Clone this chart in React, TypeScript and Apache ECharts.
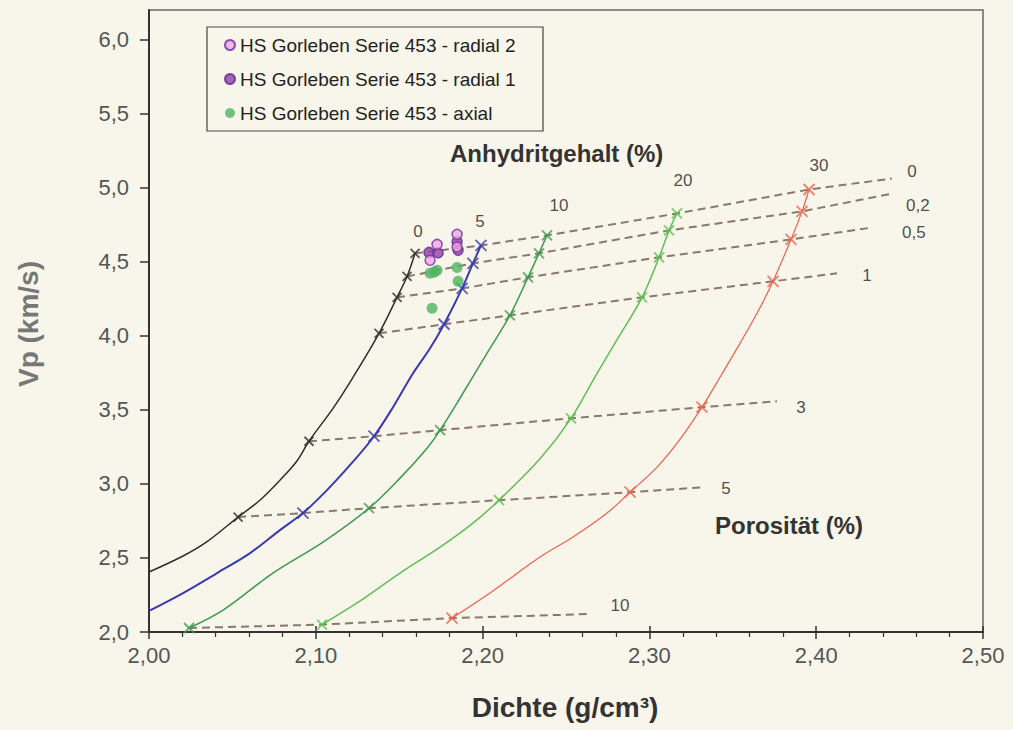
import React, { useEffect, useRef } from 'react';
import * as echarts from 'echarts';

const FONT = '"Liberation Sans", Arial, Helvetica, sans-serif';

// Porosity (%) and anhydrite content (%) levels of the model grid
const porosityLevels = ['0', '0,2', '0,5', '1', '3', '5', '10'];
const anhydriteLevels = ['0', '5', '10', '20', '30'];

// Grid nodes [density, Vp] of each anhydrite curve, one per porosity level (null: below 2,00 g/cm³)
const nodes0 = [[2.1595, 4.557], [2.1547, 4.401], [2.1487, 4.26], [2.1379, 4.017], [2.0959, 3.288], [2.0534, 2.776], null];
const nodes5 = [[2.199, 4.61], [2.1942, 4.489], [2.1877, 4.32], [2.1769, 4.078], [2.1349, 3.322], [2.0923, 2.803], null];
const nodes10 = [[2.2386, 4.678], [2.2338, 4.557], [2.2272, 4.395], [2.2164, 4.138], [2.1745, 3.363], [2.1319, 2.836], [2.024, 2.027]];
const nodes20 = [[2.3165, 4.826], [2.3118, 4.712], [2.3058, 4.53], [2.2956, 4.26], [2.253, 3.443], [2.2098, 2.89], [2.1037, 2.05]];
const nodes30 = [[2.3957, 4.988], [2.3915, 4.84], [2.3849, 4.651], [2.3741, 4.368], [2.3315, 3.518], [2.2884, 2.944], [2.1817, 2.094]];

// Intermediate points of each anhydrite curve
const path0 = [[2.0, 2.405], [2.0204, 2.513], [2.0348, 2.61], [2.0665, 2.89], [2.0785, 3.025], [2.0887, 3.155], [2.1103, 3.51], [2.1223, 3.72]];
const path5 = [[2.0, 2.142], [2.0204, 2.263], [2.0408, 2.398], [2.0606, 2.533], [2.0785, 2.688], [2.1067, 2.958], [2.1223, 3.15], [2.1463, 3.518], [2.1583, 3.747], [2.1685, 3.916]];
const path10 = [[2.0444, 2.148], [2.0743, 2.398], [2.1043, 2.607], [2.1505, 3.039], [2.1667, 3.241], [2.1865, 3.58], [2.2026, 3.882]];
const path20 = [[2.1247, 2.196], [2.1505, 2.398], [2.1745, 2.573], [2.1942, 2.735], [2.2344, 3.17], [2.2686, 3.747], [2.28, 3.963]];
const path30 = [[2.2044, 2.263], [2.2344, 2.506], [2.2542, 2.641], [2.2746, 2.803], [2.3046, 3.113], [2.3183, 3.3], [2.3423, 3.72], [2.3543, 3.949], [2.3645, 4.152]];

// Right-hand ends of the iso-porosity lines
const porosityEnds = [[2.4454, 5.062], [2.446, 4.961], [2.434, 4.732], [2.4125, 4.422], [2.3765, 3.558], [2.3333, 2.978], [2.2632, 2.121]];

// Measurements HS Gorleben, Serie 453 [density, Vp]
const radial2 = [[2.1727, 4.617], [2.1685, 4.51], [2.1847, 4.685], [2.1847, 4.6]];
const radial1 = [[2.1679, 4.563], [2.1733, 4.56], [2.1847, 4.635], [2.1853, 4.577]];
const axial = [[2.1685, 4.422], [2.1727, 4.442], [2.171, 4.43], [2.1847, 4.462], [2.1853, 4.368], [2.1697, 4.186]];

const xTicks = [2.0, 2.1, 2.2, 2.3, 2.4, 2.5];
const yTicks = [2.0, 2.5, 3.0, 3.5, 4.0, 4.5, 5.0, 5.5, 6.0];

const legendNames = [
  'HS Gorleben Serie 453 - radial 2',
  'HS Gorleben Serie 453 - radial 1',
  'HS Gorleben Serie 453 - axial',
];

// Styling of the curves
const curveColors = ['#2e2e2e', '#3a3aae', '#3d9a4e', '#5fc052', '#f2604e'];
const curveWidths = [1.5, 2, 1.5, 1.5, 1.2];
const markerSizes = [9, 11, 10, 10, 11];
const curveLabelOffsets = [[3, -22], [-1, -24], [12, -30], [6, -33], [10, -24]];
const porosityLabelOffsets = [[20, -7], [25, 12], [41, 5], [30, 2], [24, 6], [21, 1], [32, -9]];

const CROSS = 'path://M0,0L10,10M10,0L0,10';

export default function App() {
  const ref = useRef<HTMLDivElement>(null);

  useEffect(() => {
    if (!ref.current) return;
    const chart = echarts.init(ref.current, undefined, { renderer: 'svg' });

    const allNodes = [nodes0, nodes5, nodes10, nodes20, nodes30];
    const allPaths = [path0, path5, path10, path20, path30];

    const series: any[] = [];

    // iso-porosity lines through the nodes
    porosityLevels.forEach((lvl, i) => {
      const pts = allNodes.map((n) => n[i]).filter(Boolean) as number[][];
      pts.push(porosityEnds[i]);
      series.push({
        name: 'Porosität ' + lvl,
        type: 'line',
        data: pts,
        symbol: 'none',
        silent: true,
        z: 2,
        lineStyle: { color: '#8a7968', width: 2, type: [8, 5] },
      });
    });

    // anhydrite curves
    anhydriteLevels.forEach((lvl, k) => {
      const nodes = allNodes[k].filter(Boolean) as number[][];
      const pts = [...nodes, ...allPaths[k]].sort((a, b) => a[0] - b[0]);
      series.push({
        name: 'Anhydrit ' + lvl,
        type: 'line',
        data: pts,
        symbol: 'none',
        smooth: 0.35,
        z: 3,
        lineStyle: { color: curveColors[k], width: curveWidths[k] },
      });
      series.push({
        name: 'Knoten ' + lvl,
        type: 'scatter',
        data: nodes,
        symbol: CROSS,
        symbolSize: markerSizes[k],
        z: 4,
        itemStyle: { color: curveColors[k], borderColor: curveColors[k], borderWidth: 1.8 },
      });
      series.push({
        name: 'Beschriftung ' + lvl,
        type: 'scatter',
        data: [nodes[0]],
        symbolSize: 1,
        z: 5,
        itemStyle: { color: 'rgba(0,0,0,0)' },
        label: {
          show: true,
          formatter: lvl,
          position: 'inside',
          offset: curveLabelOffsets[k],
          fontFamily: FONT,
          fontSize: 17,
          color: '#222',
        },
      });
    });

    // porosity labels at the line ends
    series.push({
      name: 'Porosität Beschriftung',
      type: 'scatter',
      symbolSize: 1,
      z: 5,
      itemStyle: { color: 'rgba(0,0,0,0)' },
      data: porosityEnds.map((p, i) => ({
        value: p,
        label: {
          show: true,
          formatter: porosityLevels[i],
          position: 'inside',
          offset: porosityLabelOffsets[i],
          fontFamily: FONT,
          fontSize: 17,
          color: '#222',
        },
      })),
    });

    // measurements
    series.push({
      name: legendNames[2],
      type: 'scatter',
      data: axial,
      symbol: 'circle',
      symbolSize: 11,
      z: 6,
      itemStyle: { color: '#4fb463' },
    });
    series.push({
      name: legendNames[1],
      type: 'scatter',
      data: radial1,
      symbol: 'circle',
      symbolSize: 10,
      z: 7,
      itemStyle: { color: '#9a3fa6', borderColor: '#5a2c98', borderWidth: 1.5 },
    });
    series.push({
      name: legendNames[0],
      type: 'scatter',
      data: radial2,
      symbol: 'circle',
      symbolSize: 10,
      z: 8,
      itemStyle: { color: '#f3a8dc', borderColor: '#6a32a4', borderWidth: 1.5 },
    });

    const comma = (v: number, d: number) => v.toFixed(d).replace('.', ',');

    chart.setOption({
      animation: false,
      backgroundColor: '#f8f6ea',
      textStyle: { fontFamily: FONT },
      grid: {
        left: 149,
        right: 30,
        top: 10,
        bottom: 98,
        show: true,
        borderColor: '#666',
        borderWidth: 1.5,
        backgroundColor: 'rgba(0,0,0,0)',
      },
      legend: {
        data: legendNames,
        orient: 'vertical',
        left: 224,
        top: 35,
        padding: 0,
        icon: 'circle',
        itemWidth: 10,
        itemHeight: 10,
        itemGap: 14,
        selectedMode: false,
        textStyle: { fontFamily: FONT, fontSize: 19, lineHeight: 20, color: '#222' },
      },
      xAxis: [
        {
          type: 'value',
          min: 2.0,
          max: 2.5,
          interval: 0.1,
          axisLine: { show: true, lineStyle: { color: '#333', width: 2 } },
          axisTick: { show: true, length: 7, lineStyle: { color: '#333', width: 1.5 }, customValues: xTicks },
          minorTick: { show: true, splitNumber: 5, length: 5, lineStyle: { color: '#333', width: 1.2 } },
          splitLine: { show: false },
          axisLabel: {
            margin: 12,
            fontFamily: FONT,
            fontSize: 22,
            color: '#555',
            customValues: xTicks,
            formatter: (v: number) => comma(v, 2),
          },
        },
        {
          type: 'value',
          min: 2.0,
          max: 2.5,
          interval: 0.1,
          position: 'bottom',
          axisLine: { show: false },
          axisTick: { show: true, inside: true, length: 6, lineStyle: { color: '#333', width: 1.5 } },
          axisLabel: { show: false },
          splitLine: { show: false },
        },
      ],
      yAxis: {
        type: 'value',
        min: 2.0,
        max: 6.2,
        interval: 0.5,
        axisLine: { show: true, lineStyle: { color: '#333', width: 2 } },
        axisTick: { show: true, length: 9, lineStyle: { color: '#333', width: 1.5 }, customValues: yTicks },
        splitLine: { show: false },
        axisLabel: {
          margin: 20,
          fontFamily: FONT,
          fontSize: 22,
          color: '#555',
          customValues: yTicks,
          formatter: (v: number) => comma(v, 1),
        },
      },
      graphic: [
        {
          type: 'rect',
          shape: { x: 207, y: 27, width: 336, height: 104 },
          style: { fill: 'none', stroke: '#444', lineWidth: 1.2 },
          z: 10,
        },
        {
          type: 'text',
          x: 450,
          y: 153,
          style: {
            text: 'Anhydritgehalt (%)',
            fontFamily: FONT,
            fontSize: 24,
            fontWeight: 'bold',
            fill: '#333',
            textVerticalAlign: 'middle',
          },
          z: 10,
        },
        {
          type: 'text',
          x: 715,
          y: 525,
          style: {
            text: 'Porosität (%)',
            fontFamily: FONT,
            fontSize: 24,
            fontWeight: 'bold',
            fill: '#333',
            textVerticalAlign: 'middle',
          },
          z: 10,
        },
        {
          type: 'text',
          x: 565,
          y: 707,
          style: {
            text: 'Dichte (g/cm³)',
            fontFamily: FONT,
            fontSize: 28,
            fontWeight: 'bold',
            fill: '#333',
            textAlign: 'center',
            textVerticalAlign: 'middle',
          },
          z: 10,
        },
        {
          type: 'text',
          x: 28,
          y: 324,
          rotation: Math.PI / 2,
          style: {
            text: 'Vp (km/s)',
            fontFamily: FONT,
            fontSize: 28,
            fontWeight: 'bold',
            fill: '#777',
            textAlign: 'center',
            textVerticalAlign: 'middle',
          },
          z: 10,
        },
      ],
      series,
    });

    return () => chart.dispose();
  }, []);

  return (
    <div
      ref={ref}
      style={{ position: 'absolute', left: 0, top: 0, width: 1013, height: 730, background: '#f8f6ea' }}
    />
  );
}
